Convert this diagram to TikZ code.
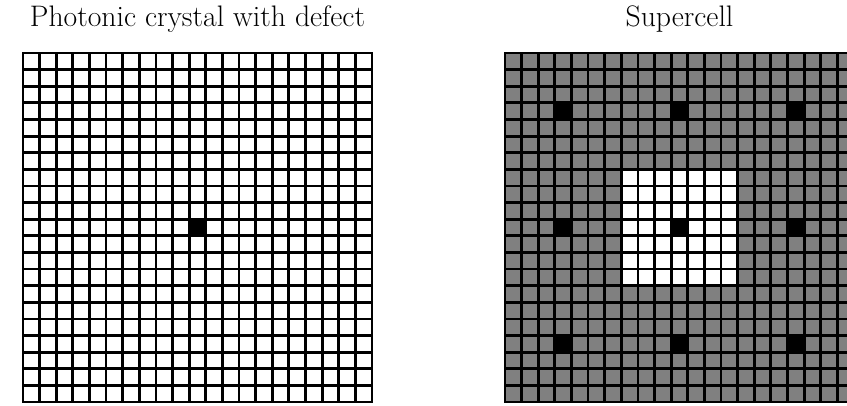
\documentclass[tikz,border=0pt]{standalone}
\usepackage{tikz}
\usetikzlibrary{positioning}

\begin{document}
\begin{tikzpicture}[
    x=0.5cm, y=0.5cm, % one unit is one cell
    % Styling for the cells
    cell/.style={draw=black, line width=2.4pt},
    hostCell/.style={cell, fill=white},
    bgCell/.style={cell, fill=gray},
    defectCell/.style={cell, fill=black},
    title/.style={font=\fontsize{25.4}{30}\selectfont, anchor=base}
]
    \useasboundingbox (0,0) rectangle (50.96,24.37);

    % Photonic crystal with one defect
    \begin{scope}[shift={(1.38,0.18)}]
        \foreach \i in {0,...,20}
            \foreach \j in {0,...,20}
                \draw[hostCell] (\i,\j) rectangle ++(1,1);
        \draw[defectCell] (10,10) rectangle ++(1,1);
        \coordinate (crystalTop) at (10.5,22.6);
    \end{scope}

    % Supercell
    \begin{scope}[shift={(30.38,0.18)}]
        \foreach \i in {0,...,20}
            \foreach \j in {0,...,20}
                \draw[bgCell] (\i,\j) rectangle ++(1,1);
        \foreach \i in {7,...,13}
            \foreach \j in {7,...,13}
                \draw[hostCell] (\i,\j) rectangle ++(1,1);
        \foreach \i in {3,10,17}
            \foreach \j in {3,10,17}
                \draw[defectCell] (\i,\j) rectangle ++(1,1);
        \coordinate (superTop) at (10.5,22.6);
    \end{scope}

    % Titles
    \node[title] (crystalTitle) at (crystalTop) {Photonic crystal with defect};
    \node[title] (superTitle) at (superTop) {Supercell};

\end{tikzpicture}
\end{document}
